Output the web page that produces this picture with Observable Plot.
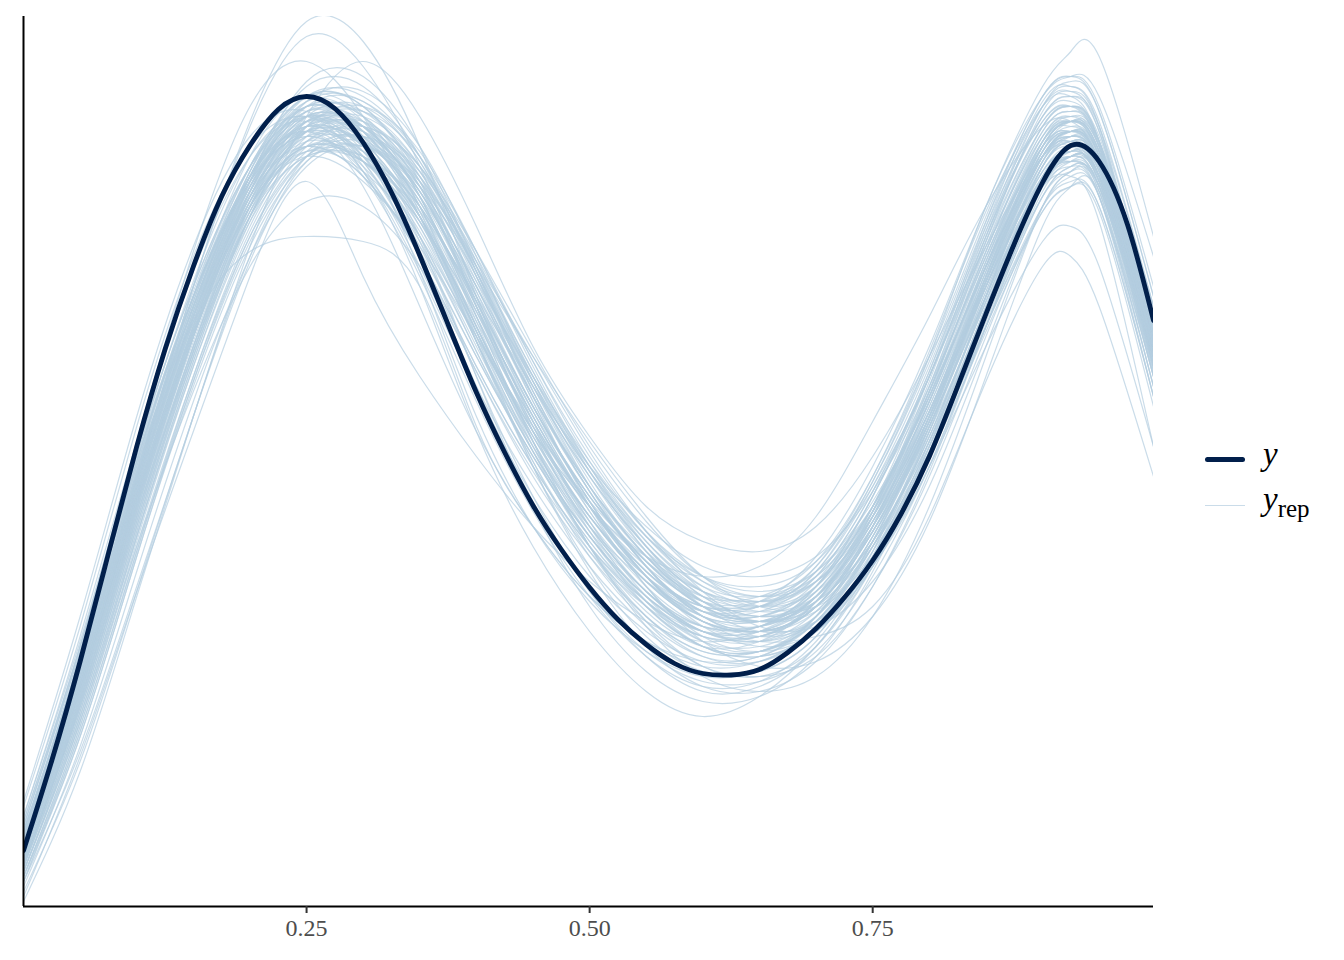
<!DOCTYPE html>
<html>
<head>
<meta charset="utf-8">
<script src="https://cdn.jsdelivr.net/npm/d3@7"></script>
<script src="https://cdn.jsdelivr.net/npm/@observablehq/plot@0.6"></script>
<style>
  html, body { margin: 0; padding: 0; background: #fff; }
  #wrap { position: relative; width: 1344px; height: 960px; }
  #chart { position: absolute; left: 0; top: 0; }
  .legend { position: absolute; left: 1205px; top: 436px; font-family: "Liberation Serif", "Times New Roman", serif; color: #000; }
  .row { position: relative; height: 48px; }
  .key { position: absolute; left: 0; width: 40px; }
  .lab { position: absolute; left: 58px; font-size: 33px; line-height: 33px; white-space: nowrap; }
  .sub { font-size: 25px; font-style: normal; position: relative; top: 7px; }
</style>
</head>
<body>
<div id="wrap">
  <div id="chart"></div>
  <div class="legend">
    <div class="row">
      <div class="key" style="top:21px;height:5px;border-radius:3px;background:#011f4b;"></div>
      <div class="lab" style="top:2px;"><i>y</i></div>
    </div>
    <div class="row">
      <div class="key" style="top:21px;height:1.3px;background:#b3cde0;opacity:0.7;"></div>
      <div class="lab" style="top:-1px;"><i>y</i><span class="sub">rep</span></div>
    </div>
  </div>
</div>
<script>
// Observed density (y)
const yX = [0,0.025,0.05,0.075,0.1,0.125,0.15,0.175,0.2,0.225,0.25,0.275,0.3,0.325,0.35,0.375,0.4,0.425,0.45,0.475,0.5,0.525,0.55,0.575,0.6,0.625,0.65,0.675,0.7,0.725,0.75,0.775,0.8,0.825,0.85,0.875,0.9,0.925,0.95,0.975,0.998];
const yDens = [0.112,0.292,0.490,0.706,0.920,1.114,1.280,1.420,1.522,1.594,1.620,1.596,1.528,1.428,1.302,1.164,1.028,0.908,0.802,0.714,0.638,0.574,0.524,0.486,0.466,0.463,0.474,0.508,0.556,0.618,0.692,0.785,0.900,1.040,1.185,1.325,1.448,1.522,1.490,1.364,1.172];

// Replicated densities (y_rep), each read at these x positions
const repX = [0,0.05,0.1,0.15,0.2,0.25,0.3,0.35,0.4,0.45,0.5,0.55,0.6,0.65,0.7,0.75,0.8,0.85,0.9,0.925,0.95,0.998];
const yrepDens = [
  [0.08,0.42,0.84,1.24,1.57,1.77,1.73,1.52,1.22,0.95,0.76,0.63,0.56,0.56,0.63,0.79,1.02,1.28,1.50,1.53,1.46,1.10],
  [0.05,0.31,0.64,0.98,1.32,1.58,1.69,1.58,1.36,1.12,0.94,0.80,0.73,0.71,0.76,0.90,1.10,1.32,1.50,1.52,1.45,1.12],
  [0.14,0.50,0.88,1.17,1.31,1.34,1.33,1.24,0.96,0.76,0.62,0.53,0.49,0.50,0.57,0.73,0.96,1.22,1.44,1.48,1.42,1.04],
  [0.02,0.30,0.63,0.95,1.26,1.45,1.26,1.06,0.90,0.76,0.65,0.57,0.53,0.55,0.62,0.77,0.99,1.25,1.47,1.51,1.45,1.09],
  [0.12,0.46,0.86,1.20,1.45,1.55,1.47,1.24,0.95,0.72,0.55,0.43,0.38,0.42,0.52,0.68,0.90,1.16,1.40,1.45,1.40,1.02],
  [0.10,0.43,0.80,1.14,1.40,1.52,1.50,1.38,1.16,0.95,0.78,0.66,0.60,0.61,0.70,0.88,1.12,1.40,1.64,1.71,1.70,1.34],
  [0.09,0.40,0.78,1.12,1.38,1.50,1.50,1.40,1.20,0.98,0.80,0.66,0.57,0.53,0.54,0.60,0.78,1.05,1.28,1.30,1.20,0.86],
  [0.13,0.47,0.85,1.18,1.43,1.52,1.46,1.30,1.08,0.88,0.72,0.60,0.52,0.50,0.55,0.68,0.88,1.12,1.33,1.36,1.28,0.92],
  [0.20,0.56,0.96,1.30,1.52,1.58,1.50,1.32,1.10,0.90,0.74,0.62,0.55,0.54,0.60,0.75,0.97,1.24,1.48,1.52,1.46,1.12],
  [0.06,0.36,0.72,1.06,1.34,1.50,1.53,1.44,1.24,1.02,0.84,0.70,0.61,0.59,0.64,0.80,1.02,1.30,1.54,1.58,1.52,1.16],
  [0.11,0.45,0.83,1.17,1.44,1.58,1.56,1.42,1.19,0.97,0.79,0.65,0.57,0.55,0.60,0.75,0.96,1.22,1.46,1.50,1.44,1.06],
  [0.15,0.49,0.87,1.20,1.46,1.60,1.58,1.45,1.22,0.99,0.80,0.66,0.58,0.56,0.62,0.78,1.01,1.29,1.54,1.58,1.51,1.15],
  [0.09,0.41,0.78,1.11,1.38,1.53,1.55,1.45,1.26,1.04,0.86,0.72,0.63,0.60,0.64,0.78,0.99,1.26,1.50,1.55,1.49,1.13],
  [0.12,0.46,0.84,1.19,1.47,1.64,1.64,1.50,1.26,1.01,0.81,0.66,0.57,0.55,0.60,0.76,0.98,1.25,1.49,1.54,1.48,1.12],
  [0.07,0.38,0.75,1.10,1.38,1.55,1.58,1.48,1.28,1.06,0.87,0.72,0.62,0.58,0.61,0.73,0.93,1.19,1.44,1.49,1.44,1.07],
  [0.10,0.43,0.81,1.15,1.41,1.54,1.51,1.37,1.14,0.92,0.75,0.63,0.56,0.56,0.64,0.82,1.06,1.34,1.57,1.60,1.52,1.14],
  [0.13,0.47,0.86,1.21,1.48,1.62,1.60,1.46,1.23,1.00,0.81,0.67,0.59,0.58,0.65,0.82,1.06,1.34,1.58,1.62,1.56,1.20],
  [0.08,0.39,0.76,1.10,1.37,1.50,1.49,1.38,1.18,0.97,0.80,0.67,0.60,0.60,0.67,0.84,1.08,1.36,1.58,1.61,1.53,1.14],
  [0.16,0.51,0.89,1.22,1.46,1.56,1.50,1.34,1.12,0.91,0.74,0.61,0.53,0.52,0.58,0.74,0.96,1.22,1.45,1.49,1.43,1.06],
  [0.11,0.44,0.82,1.16,1.42,1.56,1.56,1.46,1.27,1.06,0.88,0.74,0.65,0.62,0.66,0.79,0.99,1.24,1.46,1.50,1.44,1.08],
  [0.05,0.35,0.71,1.06,1.35,1.52,1.56,1.48,1.29,1.07,0.88,0.73,0.63,0.59,0.62,0.75,0.95,1.21,1.46,1.51,1.46,1.10],
  [0.14,0.48,0.86,1.19,1.44,1.56,1.52,1.38,1.16,0.94,0.77,0.64,0.56,0.54,0.58,0.72,0.92,1.18,1.42,1.47,1.42,1.04],
  [0.10,0.44,0.83,1.18,1.46,1.61,1.61,1.49,1.27,1.03,0.83,0.68,0.59,0.57,0.62,0.77,0.99,1.27,1.52,1.57,1.51,1.16],
  [0.09,0.40,0.77,1.12,1.40,1.55,1.55,1.43,1.22,1.00,0.82,0.69,0.61,0.60,0.66,0.83,1.07,1.37,1.62,1.66,1.59,1.22],
  [0.18,0.53,0.91,1.24,1.48,1.58,1.53,1.38,1.15,0.93,0.76,0.63,0.55,0.53,0.57,0.71,0.90,1.15,1.39,1.44,1.39,1.00],
  [0.12,0.45,0.82,1.15,1.40,1.52,1.49,1.37,1.17,0.97,0.80,0.68,0.61,0.61,0.68,0.85,1.09,1.37,1.60,1.63,1.55,1.16],
  [0.07,0.37,0.74,1.09,1.38,1.56,1.60,1.51,1.31,1.08,0.88,0.72,0.61,0.57,0.60,0.73,0.94,1.22,1.48,1.53,1.48,1.11],
  [0.13,0.47,0.85,1.18,1.42,1.53,1.49,1.35,1.13,0.92,0.76,0.65,0.59,0.60,0.68,0.86,1.11,1.39,1.60,1.62,1.53,1.12],
  [0.09,0.42,0.80,1.15,1.43,1.59,1.59,1.47,1.26,1.03,0.84,0.70,0.60,0.57,0.61,0.76,0.98,1.25,1.49,1.53,1.47,1.09],
  [0.11,0.44,0.81,1.14,1.39,1.51,1.50,1.40,1.21,1.00,0.82,0.68,0.58,0.55,0.59,0.74,0.97,1.26,1.53,1.58,1.53,1.18],
  [0.15,0.49,0.87,1.20,1.44,1.55,1.51,1.37,1.15,0.94,0.78,0.66,0.59,0.59,0.66,0.83,1.06,1.32,1.54,1.57,1.50,1.11],
  [0.06,0.36,0.73,1.08,1.37,1.54,1.57,1.47,1.27,1.05,0.87,0.73,0.64,0.62,0.67,0.81,1.02,1.28,1.50,1.54,1.47,1.08],
  [0.10,0.43,0.82,1.17,1.45,1.60,1.58,1.44,1.20,0.96,0.77,0.63,0.55,0.54,0.61,0.78,1.03,1.33,1.58,1.62,1.55,1.17],
  [0.12,0.46,0.84,1.17,1.41,1.51,1.47,1.34,1.14,0.95,0.80,0.69,0.62,0.62,0.69,0.86,1.10,1.38,1.62,1.66,1.60,1.24],
  [0.08,0.41,0.79,1.14,1.42,1.57,1.57,1.46,1.25,1.02,0.83,0.69,0.60,0.58,0.64,0.80,1.03,1.30,1.53,1.56,1.49,1.10],
  [0.17,0.52,0.90,1.22,1.45,1.54,1.48,1.33,1.11,0.90,0.73,0.60,0.52,0.51,0.57,0.72,0.94,1.21,1.46,1.51,1.46,1.09],
  [0.10,0.44,0.85,1.24,1.56,1.74,1.68,1.48,1.20,0.96,0.78,0.65,0.58,0.57,0.63,0.78,1.00,1.27,1.51,1.55,1.49,1.12],
  [0.16,0.52,0.93,1.31,1.60,1.69,1.58,1.38,1.13,0.91,0.74,0.62,0.55,0.55,0.61,0.77,1.00,1.28,1.53,1.57,1.50,1.12],
  [0.09,0.40,0.78,1.14,1.45,1.65,1.66,1.52,1.28,1.03,0.83,0.68,0.59,0.57,0.62,0.77,0.99,1.26,1.50,1.54,1.48,1.11],
  [0.07,0.37,0.72,1.03,1.28,1.41,1.40,1.28,1.07,0.86,0.70,0.58,0.51,0.51,0.58,0.74,0.97,1.25,1.50,1.55,1.49,1.14],
  [0.11,0.44,0.82,1.16,1.42,1.55,1.53,1.41,1.20,0.98,0.80,0.67,0.60,0.60,0.67,0.85,1.10,1.40,1.62,1.66,1.62,1.30],
  [0.12,0.46,0.84,1.18,1.44,1.56,1.52,1.38,1.16,0.95,0.78,0.65,0.57,0.55,0.60,0.76,0.98,1.24,1.44,1.46,1.37,0.92],
  [0.10,0.42,0.80,1.15,1.43,1.57,1.52,1.33,1.06,0.82,0.63,0.50,0.43,0.44,0.52,0.69,0.92,1.20,1.45,1.50,1.45,1.08],
  [0.14,0.50,0.90,1.25,1.50,1.58,1.48,1.28,1.04,0.84,0.68,0.56,0.48,0.46,0.50,0.64,0.86,1.14,1.40,1.46,1.42,1.06],
  [0.06,0.34,0.70,1.04,1.32,1.49,1.52,1.44,1.28,1.10,0.93,0.78,0.66,0.60,0.60,0.70,0.90,1.18,1.44,1.50,1.46,1.12],
  [0.10,0.44,0.82,1.16,1.43,1.58,1.55,1.40,1.16,0.92,0.72,0.58,0.50,0.49,0.55,0.70,0.93,1.22,1.48,1.54,1.49,1.12],
  [0.12,0.45,0.82,1.15,1.40,1.50,1.45,1.32,1.14,0.96,0.81,0.70,0.63,0.61,0.65,0.78,0.98,1.24,1.47,1.51,1.45,1.07],
  [0.09,0.41,0.79,1.14,1.42,1.57,1.56,1.42,1.18,0.93,0.72,0.57,0.48,0.46,0.52,0.68,0.92,1.22,1.49,1.55,1.50,1.14],
  [0.18,0.54,0.93,1.27,1.50,1.57,1.47,1.27,1.03,0.82,0.66,0.55,0.49,0.49,0.56,0.73,0.98,1.28,1.53,1.57,1.50,1.10],
  [0.04,0.32,0.67,1.01,1.30,1.48,1.52,1.45,1.29,1.10,0.91,0.75,0.63,0.56,0.56,0.65,0.84,1.12,1.40,1.47,1.44,1.12],
  [0.11,0.45,0.84,1.19,1.47,1.62,1.60,1.45,1.20,0.95,0.75,0.60,0.52,0.51,0.58,0.76,1.02,1.32,1.56,1.60,1.53,1.14],
  [0.13,0.47,0.86,1.20,1.46,1.58,1.54,1.39,1.16,0.94,0.76,0.63,0.55,0.53,0.58,0.73,0.96,1.24,1.49,1.54,1.49,1.14],
  [0.08,0.38,0.74,1.08,1.36,1.53,1.56,1.48,1.31,1.11,0.92,0.77,0.66,0.62,0.65,0.77,0.98,1.25,1.50,1.55,1.50,1.15],
  [0.15,0.50,0.89,1.23,1.48,1.60,1.55,1.38,1.13,0.89,0.70,0.57,0.50,0.50,0.58,0.76,1.01,1.29,1.52,1.55,1.48,1.08],
  [0.10,0.43,0.81,1.16,1.44,1.61,1.63,1.52,1.30,1.05,0.84,0.68,0.58,0.55,0.60,0.75,0.98,1.26,1.51,1.56,1.50,1.13],
  [0.07,0.38,0.75,1.10,1.39,1.55,1.56,1.45,1.26,1.05,0.87,0.74,0.66,0.64,0.69,0.84,1.06,1.33,1.56,1.60,1.54,1.18],
  [0.12,0.46,0.85,1.20,1.47,1.60,1.56,1.40,1.15,0.91,0.72,0.59,0.52,0.53,0.61,0.79,1.05,1.35,1.60,1.64,1.57,1.20],
  [0.09,0.40,0.77,1.11,1.38,1.52,1.51,1.40,1.21,1.00,0.81,0.66,0.56,0.52,0.55,0.68,0.90,1.18,1.44,1.50,1.46,1.12],
  [0.16,0.51,0.89,1.22,1.45,1.54,1.47,1.30,1.08,0.88,0.72,0.61,0.55,0.56,0.64,0.82,1.07,1.35,1.57,1.60,1.52,1.10],
  [0.11,0.44,0.83,1.18,1.46,1.62,1.62,1.50,1.28,1.05,0.85,0.70,0.61,0.58,0.62,0.76,0.97,1.24,1.46,1.49,1.42,1.02],
  [0.05,0.34,0.70,1.05,1.34,1.51,1.54,1.46,1.28,1.07,0.87,0.71,0.60,0.55,0.57,0.68,0.88,1.16,1.42,1.48,1.44,1.10],
  [0.13,0.48,0.87,1.21,1.46,1.57,1.52,1.36,1.13,0.91,0.74,0.62,0.56,0.56,0.62,0.78,1.01,1.28,1.52,1.57,1.52,1.17],
  [0.10,0.42,0.80,1.14,1.41,1.55,1.54,1.43,1.23,1.02,0.84,0.71,0.63,0.61,0.66,0.80,1.02,1.28,1.50,1.53,1.46,1.06],
  [0.14,0.48,0.86,1.18,1.42,1.52,1.46,1.31,1.10,0.90,0.73,0.61,0.54,0.53,0.59,0.74,0.96,1.23,1.47,1.52,1.47,1.12],
  [0.08,0.40,0.77,1.12,1.41,1.58,1.60,1.49,1.27,1.02,0.80,0.64,0.54,0.51,0.55,0.69,0.91,1.19,1.45,1.51,1.47,1.12],
  [0.12,0.46,0.85,1.20,1.46,1.59,1.55,1.41,1.19,0.98,0.80,0.67,0.59,0.58,0.64,0.80,1.04,1.33,1.59,1.63,1.56,1.16],
  [0.09,0.41,0.79,1.13,1.40,1.54,1.53,1.42,1.24,1.04,0.86,0.72,0.62,0.58,0.61,0.73,0.93,1.20,1.45,1.50,1.45,1.08],
  [0.17,0.52,0.91,1.24,1.48,1.58,1.51,1.34,1.11,0.89,0.71,0.58,0.51,0.51,0.57,0.72,0.94,1.21,1.45,1.49,1.43,1.04],
  [0.07,0.37,0.74,1.09,1.38,1.56,1.59,1.50,1.31,1.09,0.89,0.74,0.64,0.60,0.63,0.76,0.97,1.25,1.51,1.57,1.53,1.20],
  [0.11,0.45,0.84,1.18,1.44,1.57,1.54,1.40,1.18,0.96,0.78,0.65,0.57,0.56,0.62,0.79,1.04,1.34,1.60,1.65,1.59,1.22],
  [0.10,0.43,0.81,1.15,1.42,1.56,1.55,1.43,1.21,0.97,0.77,0.62,0.53,0.51,0.57,0.73,0.97,1.26,1.51,1.55,1.49,1.10],
  [0.13,0.47,0.85,1.19,1.45,1.59,1.56,1.43,1.22,1.00,0.82,0.69,0.60,0.57,0.60,0.72,0.91,1.16,1.39,1.44,1.40,1.02],
  [0.06,0.35,0.71,1.05,1.33,1.50,1.54,1.47,1.30,1.09,0.90,0.75,0.65,0.61,0.65,0.79,1.01,1.29,1.53,1.57,1.51,1.13],
  [0.15,0.49,0.88,1.22,1.48,1.62,1.58,1.42,1.17,0.93,0.74,0.61,0.54,0.54,0.61,0.78,1.03,1.31,1.55,1.59,1.53,1.15],
  [0.09,0.41,0.79,1.14,1.43,1.60,1.61,1.50,1.29,1.06,0.86,0.71,0.61,0.57,0.59,0.70,0.90,1.17,1.43,1.49,1.46,1.14],
  [0.12,0.45,0.82,1.15,1.40,1.52,1.49,1.37,1.19,0.99,0.82,0.69,0.60,0.57,0.61,0.75,0.97,1.25,1.50,1.55,1.51,1.18],
  [0.11,0.44,0.83,1.18,1.45,1.59,1.57,1.44,1.21,0.97,0.76,0.61,0.52,0.50,0.55,0.70,0.93,1.22,1.48,1.53,1.48,1.11],
  [0.08,0.39,0.76,1.11,1.40,1.57,1.59,1.48,1.27,1.04,0.84,0.70,0.62,0.60,0.65,0.80,1.03,1.31,1.56,1.60,1.53,1.13],
  [0.14,0.48,0.87,1.21,1.46,1.58,1.53,1.38,1.15,0.93,0.75,0.62,0.55,0.55,0.62,0.80,1.06,1.36,1.61,1.64,1.56,1.14],
  [0.10,0.43,0.81,1.16,1.43,1.57,1.56,1.44,1.24,1.02,0.83,0.68,0.58,0.54,0.57,0.70,0.92,1.20,1.46,1.52,1.48,1.13],
  [0.13,0.48,0.88,1.22,1.46,1.55,1.44,1.20,0.95,0.76,0.62,0.53,0.48,0.49,0.56,0.72,0.95,1.23,1.48,1.53,1.48,1.12],
  [0.11,0.46,0.86,1.22,1.50,1.62,1.52,1.27,0.98,0.76,0.61,0.51,0.46,0.47,0.54,0.71,0.95,1.25,1.52,1.57,1.51,1.14],
  [0.12,0.45,0.83,1.17,1.43,1.55,1.50,1.36,1.15,0.95,0.80,0.70,0.66,0.68,0.78,0.97,1.18,1.40,1.56,1.57,1.48,1.08],
  [0.10,0.42,0.80,1.14,1.41,1.55,1.53,1.41,1.20,0.98,0.79,0.64,0.53,0.48,0.49,0.58,0.77,1.06,1.36,1.44,1.43,1.10],
  [0.09,0.41,0.80,1.16,1.45,1.60,1.54,1.34,1.06,0.80,0.60,0.47,0.41,0.42,0.50,0.67,0.91,1.19,1.45,1.50,1.46,1.10],
  [0.13,0.47,0.86,1.20,1.45,1.56,1.49,1.30,1.04,0.81,0.63,0.51,0.45,0.45,0.51,0.66,0.88,1.16,1.42,1.48,1.44,1.08],
  [0.11,0.44,0.83,1.18,1.46,1.61,1.57,1.40,1.14,0.88,0.67,0.52,0.44,0.43,0.49,0.64,0.87,1.16,1.44,1.50,1.46,1.11],
  [0.08,0.39,0.76,1.11,1.40,1.56,1.56,1.42,1.18,0.93,0.72,0.56,0.46,0.43,0.46,0.58,0.80,1.10,1.40,1.47,1.45,1.13],
  [0.15,0.50,0.89,1.22,1.46,1.55,1.46,1.26,1.01,0.79,0.62,0.50,0.44,0.45,0.53,0.70,0.95,1.24,1.50,1.55,1.49,1.11],
  [0.10,0.43,0.81,1.16,1.43,1.58,1.55,1.39,1.13,0.88,0.68,0.54,0.47,0.47,0.54,0.71,0.96,1.26,1.52,1.57,1.51,1.14],
  [0.01,0.27,0.62,0.98,1.30,1.50,1.54,1.44,1.24,1.01,0.81,0.66,0.57,0.55,0.60,0.75,0.98,1.27,1.52,1.57,1.52,1.16],
  [0.03,0.29,0.63,0.98,1.29,1.49,1.52,1.42,1.21,0.99,0.80,0.66,0.58,0.57,0.63,0.79,1.03,1.31,1.55,1.59,1.52,1.12],
  [0.21,0.58,0.98,1.32,1.54,1.59,1.49,1.30,1.07,0.87,0.71,0.60,0.54,0.54,0.60,0.76,0.99,1.26,1.50,1.54,1.48,1.10],
  [0.11,0.44,0.82,1.15,1.40,1.51,1.49,1.39,1.22,1.04,0.88,0.76,0.68,0.66,0.70,0.83,1.04,1.30,1.52,1.55,1.48,1.10],
  [0.09,0.41,0.78,1.12,1.39,1.53,1.53,1.43,1.25,1.06,0.89,0.75,0.66,0.63,0.67,0.80,1.01,1.28,1.51,1.55,1.49,1.12]
];

const xTicks = [0.25, 0.50, 0.75];

const yRows = yX.map((x, i) => ({x, d: yDens[i]}));
const repRows = yrepDens.flatMap((curve, k) => curve.map((d, i) => ({rep: k, x: repX[i], d})));

const chart = Plot.plot({
  width: 1160,
  height: 960,
  marginLeft: 23,
  marginRight: 7,
  marginTop: 16,
  marginBottom: 54,
  style: {fontFamily: "'Liberation Serif', 'Times New Roman', serif", background: "#fff"},
  x: {domain: [0, 0.998]},
  y: {domain: [0, 1.78]},
  marks: [
    Plot.line(repRows, {x: "x", y: "d", z: "rep", stroke: "#b3cde0", strokeOpacity: 0.7, strokeWidth: 1.2, curve: "natural", clip: true}),
    Plot.line(yRows, {x: "x", y: "d", stroke: "#011f4b", strokeWidth: 4.8, curve: "natural", clip: true}),
    Plot.ruleY([0], {stroke: "#000", strokeWidth: 2}),
    Plot.ruleX([0], {stroke: "#000", strokeWidth: 2}),
    Plot.axisX(xTicks, {tickSize: 7, tickPadding: 5, fontSize: 24, fill: "#4d4d4d", stroke: "#333", strokeWidth: 2, tickFormat: d3.format(".2f"), label: null}),
    Plot.axisY([], {label: null, tickSize: 0})
  ]
});
document.getElementById("chart").appendChild(chart);
</script>
</body>
</html>
